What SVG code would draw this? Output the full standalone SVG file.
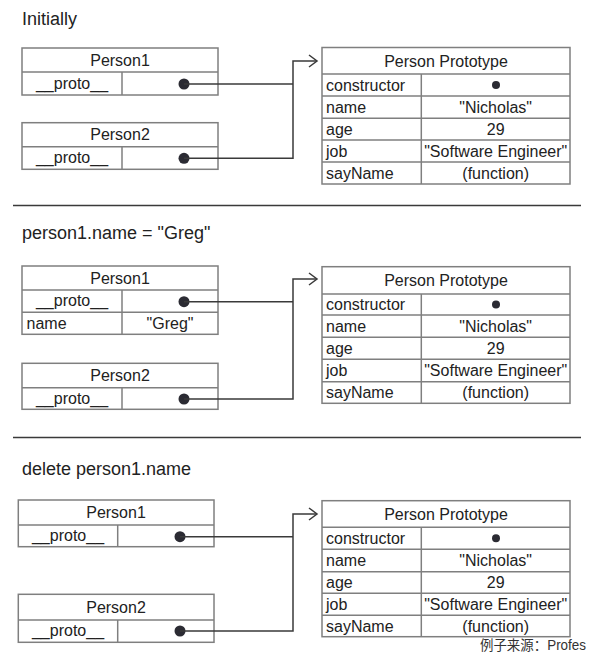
<svg xmlns="http://www.w3.org/2000/svg" width="590" height="657" viewBox="0 0 590 657">
<style>
  .bg { fill: #ffffff; }
  .box { fill: #ffffff; stroke: #7f7f7f; stroke-width: 1.5; }
  .grid { stroke: #7f7f7f; stroke-width: 1.5; fill: none; }
  .sep { stroke: #3a3a3a; stroke-width: 1.6; }
  .conn { stroke: #3a3a3a; stroke-width: 1.5; fill: none; }
  .dot { fill: #2b2b33; }
  text { font-family: "Liberation Sans", Arial, sans-serif; font-size: 16px; fill: #222222; }
  .c { text-anchor: middle; }
  .title { font-size: 18px; }
  .foot { font-family: "Liberation Sans", "Noto Sans CJK SC", sans-serif; font-size: 14px; fill: #333333; }
</style>
<defs>
  <marker id="arrow" markerUnits="userSpaceOnUse" markerWidth="12" markerHeight="14" refX="9" refY="7" orient="auto">
    <path d="M1,1 L9,7 L1,13" fill="none" stroke="#3a3a3a" stroke-width="1.5"/>
  </marker>
</defs>
<rect class="bg" x="0" y="0" width="590" height="657"/>

<!-- Section 1 -->
<text class="title" x="22" y="25">Initially</text>

<g id="s1-person1">
  <rect class="box" x="22" y="48" width="196" height="47"/>
  <line class="grid" x1="22" y1="72" x2="218" y2="72"/>
  <line class="grid" x1="122" y1="72" x2="122" y2="95"/>
  <text class="c" x="120" y="65.5">Person1</text>
  <text class="c" x="72" y="88.5">__proto__</text>
  <circle class="dot" cx="184" cy="84" r="5.5"/>
</g>
<g id="s1-person2">
  <rect class="box" x="22" y="122.7" width="196" height="46.6"/>
  <line class="grid" x1="22" y1="146.7" x2="218" y2="146.7"/>
  <line class="grid" x1="122" y1="146.7" x2="122" y2="169.3"/>
  <text class="c" x="120" y="140">Person2</text>
  <text class="c" x="72" y="163">__proto__</text>
  <circle class="dot" cx="184" cy="158.3" r="5.5"/>
</g>
<g id="s1-prototype">
  <rect class="box" x="322" y="47.5" width="248" height="136.5"/>
  <line class="grid" x1="322" y1="74" x2="570" y2="74"/>
  <line class="grid" x1="322" y1="96" x2="570" y2="96"/>
  <line class="grid" x1="322" y1="118.3" x2="570" y2="118.3"/>
  <line class="grid" x1="322" y1="140" x2="570" y2="140"/>
  <line class="grid" x1="322" y1="162" x2="570" y2="162"/>
  <line class="grid" x1="421.3" y1="74" x2="421.3" y2="184"/>
  <text class="c" x="446" y="66.5">Person Prototype</text>
  <text x="326" y="90.5">constructor</text>
  <text x="326" y="112.5">name</text>
  <text x="326" y="134.5">age</text>
  <text x="326" y="156.5">job</text>
  <text x="326" y="178.5">sayName</text>
  <circle class="dot" cx="496" cy="85" r="4"/>
  <text class="c" x="495.7" y="112.5">"Nicholas"</text>
  <text class="c" x="495.7" y="134.5">29</text>
  <text class="c" x="495.7" y="156.5">"Software Engineer"</text>
  <text class="c" x="495.7" y="178.5">(function)</text>
</g>

<line class="sep" x1="13" y1="205.5" x2="581" y2="205.5"/>

<!-- Section 2 -->
<text class="title" x="22" y="239">person1.name = "Greg"</text>

<g id="s2-person1">
  <rect class="box" x="22" y="266" width="196" height="68.3"/>
  <line class="grid" x1="22" y1="290" x2="218" y2="290"/>
  <line class="grid" x1="22" y1="312.3" x2="218" y2="312.3"/>
  <line class="grid" x1="122" y1="290" x2="122" y2="334.3"/>
  <text class="c" x="120" y="283.5">Person1</text>
  <text class="c" x="72" y="306">__proto__</text>
  <text x="26.5" y="328.5">name</text>
  <text class="c" x="170" y="328.5">"Greg"</text>
  <circle class="dot" cx="184" cy="301.7" r="5.5"/>
</g>
<g id="s2-person2">
  <rect class="box" x="22" y="363.3" width="196" height="46"/>
  <line class="grid" x1="22" y1="387.7" x2="218" y2="387.7"/>
  <line class="grid" x1="122" y1="387.7" x2="122" y2="409.3"/>
  <text class="c" x="120" y="381">Person2</text>
  <text class="c" x="72" y="403.5">__proto__</text>
  <circle class="dot" cx="184" cy="399" r="5.5"/>
</g>
<g id="s2-prototype">
  <rect class="box" x="322" y="266.7" width="248" height="136.6"/>
  <line class="grid" x1="322" y1="294" x2="570" y2="294"/>
  <line class="grid" x1="322" y1="315" x2="570" y2="315"/>
  <line class="grid" x1="322" y1="337.3" x2="570" y2="337.3"/>
  <line class="grid" x1="322" y1="359.3" x2="570" y2="359.3"/>
  <line class="grid" x1="322" y1="381.7" x2="570" y2="381.7"/>
  <line class="grid" x1="421.3" y1="294" x2="421.3" y2="403.3"/>
  <text class="c" x="446" y="286">Person Prototype</text>
  <text x="326" y="310">constructor</text>
  <text x="326" y="331.7">name</text>
  <text x="326" y="353.8">age</text>
  <text x="326" y="376">job</text>
  <text x="326" y="398">sayName</text>
  <circle class="dot" cx="496" cy="304.5" r="4"/>
  <text class="c" x="495.7" y="331.7">"Nicholas"</text>
  <text class="c" x="495.7" y="353.8">29</text>
  <text class="c" x="495.7" y="376">"Software Engineer"</text>
  <text class="c" x="495.7" y="398">(function)</text>
</g>

<line class="sep" x1="13" y1="437.5" x2="581" y2="437.5"/>

<!-- Section 3 -->
<text class="title" x="22" y="475">delete person1.name</text>

<g id="s3-person1">
  <rect class="box" x="18.3" y="500" width="195.7" height="46.7"/>
  <line class="grid" x1="18.3" y1="525" x2="214" y2="525"/>
  <line class="grid" x1="117.7" y1="525" x2="117.7" y2="546.7"/>
  <text class="c" x="116" y="518">Person1</text>
  <text class="c" x="68" y="540.8">__proto__</text>
  <circle class="dot" cx="180" cy="536.7" r="5.5"/>
</g>
<g id="s3-person2">
  <rect class="box" x="18.3" y="594.3" width="195.7" height="48"/>
  <line class="grid" x1="18.3" y1="620" x2="214" y2="620"/>
  <line class="grid" x1="117.7" y1="620" x2="117.7" y2="642.3"/>
  <text class="c" x="116" y="612.5">Person2</text>
  <text class="c" x="68" y="636">__proto__</text>
  <circle class="dot" cx="180" cy="631" r="5.5"/>
</g>
<g id="s3-prototype">
  <rect class="box" x="322" y="500.7" width="248" height="136"/>
  <line class="grid" x1="322" y1="527.3" x2="570" y2="527.3"/>
  <line class="grid" x1="322" y1="549.3" x2="570" y2="549.3"/>
  <line class="grid" x1="322" y1="571.7" x2="570" y2="571.7"/>
  <line class="grid" x1="322" y1="593.3" x2="570" y2="593.3"/>
  <line class="grid" x1="322" y1="615.3" x2="570" y2="615.3"/>
  <line class="grid" x1="421.3" y1="527.3" x2="421.3" y2="636.7"/>
  <text class="c" x="446" y="519.5">Person Prototype</text>
  <text x="326" y="543.8">constructor</text>
  <text x="326" y="566">name</text>
  <text x="326" y="588">age</text>
  <text x="326" y="609.8">job</text>
  <text x="326" y="631.5">sayName</text>
  <circle class="dot" cx="496" cy="538.3" r="4"/>
  <text class="c" x="495.7" y="566">"Nicholas"</text>
  <text class="c" x="495.7" y="588">29</text>
  <text class="c" x="495.7" y="609.8">"Software Engineer"</text>
  <text class="c" x="495.7" y="631.5">(function)</text>
</g>

<g id="connectors">
  <path class="conn" d="M184,84 H293"/>
  <path class="conn" d="M184,158.3 H293 V61 H317" marker-end="url(#arrow)"/>
  <path class="conn" d="M184,301.7 H293"/>
  <path class="conn" d="M184,399 H293 V279 H317" marker-end="url(#arrow)"/>
  <path class="conn" d="M180,536.7 H293"/>
  <path class="conn" d="M180,631 H293 V514 H317" marker-end="url(#arrow)"/>
</g>

<text class="foot" x="480" y="650" textLength="106" lengthAdjust="spacingAndGlyphs">例子来源：Profes</text>
</svg>
